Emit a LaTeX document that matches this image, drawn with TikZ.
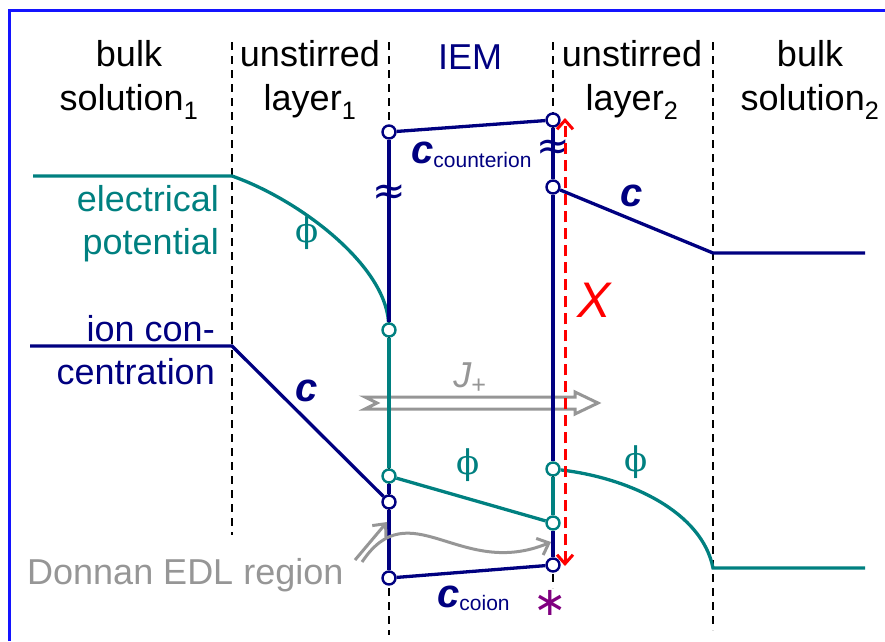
\documentclass[tikz,border=0pt]{standalone}
\usepackage{fontspec}
\setmainfont{Liberation Sans}
\newfontfamily\symfont{DejaVu Sans}
\newfontfamily\phifont{DejaVu Serif}
\usepackage{xcolor}
\usetikzlibrary{arrows.meta}
\definecolor{iemnavy}{RGB}{0,0,128}
\definecolor{iemteal}{RGB}{0,128,128}
\definecolor{iemgray}{RGB}{150,150,150}
\definecolor{iempurple}{RGB}{128,0,128}
\definecolor{frameblue}{RGB}{20,20,255}

\begin{document}
\begin{tikzpicture}[x=1pt, y=-1pt,
  head/.style={font=\fontsize{36}{44}\selectfont, align=center, inner sep=0pt},
  side/.style={font=\fontsize{36}{43}\selectfont, align=right, anchor=east, inner sep=0pt},
  sep/.style={line width=2pt, dash pattern=on 8pt off 6pt},
  navyline/.style={iemnavy, line width=3.3pt},
  tealline/.style={iemteal, line width=3.3pt},
  ring/.style={circle, draw=#1, fill=white, line width=2.4pt, inner sep=0pt, minimum size=13pt},
  sym/.style={font=\fontsize{40}{40}\selectfont\bfseries\itshape, text=iemnavy, inner sep=0pt},
  phi/.style={font=\fontsize{34}{34}\phifont, text=iemteal, inner sep=0pt},
  wave/.style={font=\fontsize{40}{40}\symfont, text=iemnavy, inner sep=0pt},
  garr/.style={iemgray, line width=3pt, -{Straight Barb[length=10pt, width=18pt]}}
]
\useasboundingbox (0,0) rectangle (885,641);
\draw[frameblue, line width=3pt] (9,641) -- (9,10) -- (885,10);

% region borders
\draw[sep] (232,42) -- (232,535);
\draw[sep] (389,42) -- (389,635);
\draw[sep] (553,42) -- (553,588);
\draw[sep] (713,42) -- (713,630);

% headings
\node[head] (bulkA) at (129,80) {bulk\\solution\textsubscript{1}};
\node[head] (usA)   at (310,80) {unstirred\\layer\textsubscript{1}};
\node[head, text=iemnavy] (iem) at (470,57) {IEM};
\node[head] (usB)   at (632,80) {unstirred\\layer\textsubscript{2}};
\node[head] (bulkB) at (810,80) {bulk\\solution\textsubscript{2}};

\node[side, text=iemteal] (elpot) at (219,224) {electrical\\potential};
\node[side, text=iemnavy] (ionc)  at (215,350) {ion con-\\centration};

% flux arrow
\draw[iemgray, line width=3pt, line join=miter]
  (365,397) -- (377,403) -- (365,409) -- (575,409) -- (575,414)
  -- (598,403) -- (575,392) -- (575,397) -- cycle;
\node[font=\fontsize{36}{36}\selectfont\itshape, text=iemgray] (jp) at (470,378) {J\textsubscript{\upshape +}};

% membrane points
\node[ring=iemnavy] (mL1) at (389,132) {};
\node[ring=iemteal] (mL2) at (389,330) {};
\node[ring=iemteal] (mL3) at (389,476) {};
\node[ring=iemnavy] (mL4) at (389,502) {};
\node[ring=iemnavy] (mL5) at (389,578) {};
\node[ring=iemnavy] (mR1) at (553,120) {};
\node[ring=iemnavy] (mR2) at (553,187) {};
\node[ring=iemteal] (mR3) at (553,469) {};
\node[ring=iemteal] (mR4) at (553,523) {};
\node[ring=iemnavy] (mR5) at (553,565) {};

\coordinate (phiA) at (33,176);
\coordinate (phiB) at (232,176);
\coordinate (phiC) at (713,568);
\coordinate (phiD) at (865,568);
\coordinate (concA) at (30,346);
\coordinate (concB) at (232,346);
\coordinate (concC) at (713,253);
\coordinate (concD) at (865,253);

% potential
\draw[tealline] (phiA) -- (phiB) .. controls (300,200) and (385,265) .. (mL2);
\draw[tealline] (mL2) -- (mL3);
\draw[tealline] (mL3) -- (mR4);
\draw[tealline] (mR4) -- (mR3);
\draw[tealline] (mR3) .. controls (630,478) and (702,512) .. (phiC) -- (phiD);

% concentration
\draw[navyline] (concA) -- (concB) -- (mL4);
\draw[navyline] (mL3) -- (mL4);
\draw[navyline] (mL4) -- (mL5);
\draw[navyline] (mL5) -- (mR5);
\draw[navyline] (mR5) -- (mR4);
\draw[navyline] (mL1) -- (mL2);
\draw[navyline] (mL1) -- (mR1);
\draw[navyline] (mR1) -- (mR2);
\draw[navyline] (mR2) -- (mR3);
\draw[navyline] (mR2) -- (concC) -- (concD);

\node[wave] (brkL) at (389,195) {≈};
\node[wave] (brkR) at (553,150) {≈};

% labels
\node[phi] (phiL) at (307,233) {ϕ};
\node[phi] (phiM) at (468,465) {ϕ};
\node[phi] (phiR) at (636,462) {ϕ};
\node[sym] (cL) at (307,391) {c};
\node[sym] (cR) at (632,196) {c};
\node[sym, anchor=base west] (cCount) at (411,163)
  {c\raisebox{-4pt}{\fontsize{21}{21}\selectfont\mdseries\upshape counterion}};
\node[sym, anchor=base west] (cCo) at (437,607)
  {c\raisebox{-3pt}{\fontsize{21}{21}\selectfont\mdseries\upshape coion}};

% thickness X
\coordinate (xTop) at (565,118);
\coordinate (xBot) at (565,566);
\draw[red, line width=3pt, dash pattern=on 11pt off 6pt,
  {Straight Barb[length=9pt, width=16pt]}-{Straight Barb[length=9pt, width=16pt]}] (xBot) -- (xTop);
\node[font=\fontsize{50}{50}\selectfont\itshape, text=red] (xlab) at (594,300) {X};

\node[font=\fontsize{40}{40}\symfont, text=iempurple] (star) at (550,603) {∗};

% Donnan region
\node[font=\fontsize{36}{36}\selectfont, text=iemgray, anchor=west, inner sep=0pt] (donnan) at (27,575) {Donnan EDL region};
\coordinate (edlS1) at (355,560);
\coordinate (edlE1) at (387,522);
\coordinate (edlS2) at (362,562);
\coordinate (edlE2) at (551,542);
\draw[garr] (edlS1) -- (edlE1);
\draw[garr] (edlS2) .. controls (410,490) and (460,580) .. (edlE2);
\end{tikzpicture}
\end{document}
